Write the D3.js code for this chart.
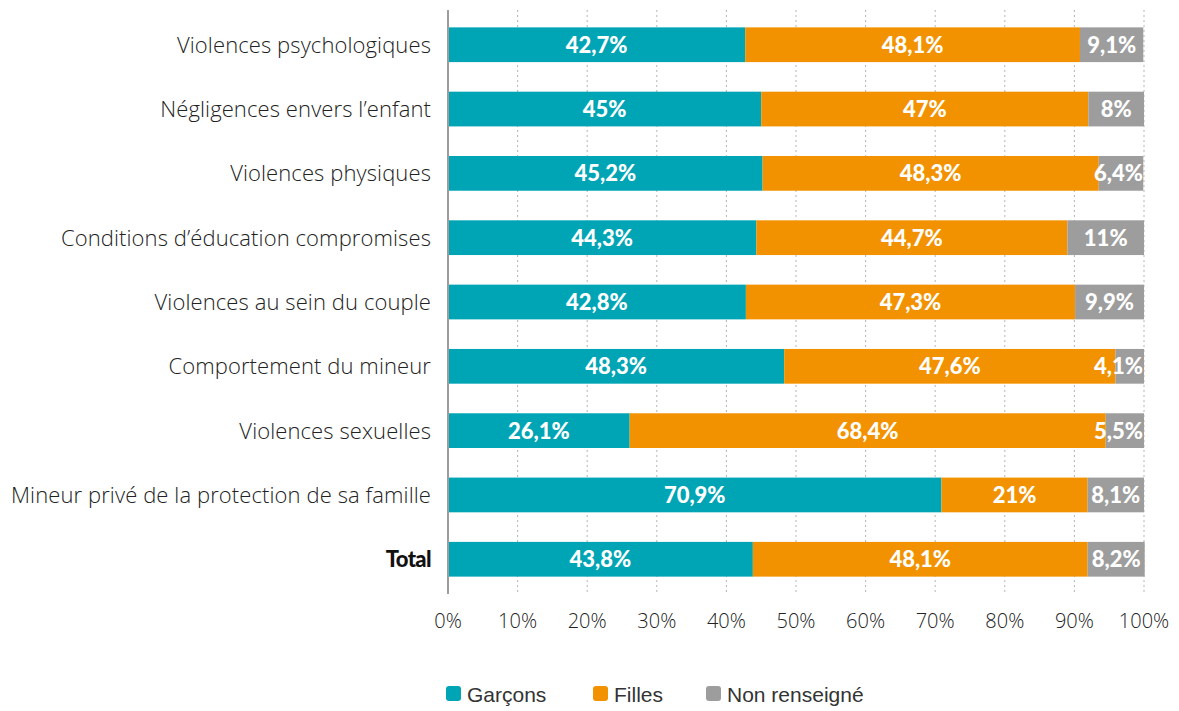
<!DOCTYPE html>
<html>
<head>
<meta charset="utf-8">
<script src="https://cdn.jsdelivr.net/npm/d3@7"></script>
<style>
  body { margin: 0; background: #fff; }
  svg { display: block; }
</style>
</head>
<body>
<svg id="chart" width="1179" height="711"></svg>
<script>
'use strict';

const categories = [
    'Violences psychologiques',
    'Négligences envers l\u2019enfant',
    'Violences physiques',
    'Conditions d\u2019éducation compromises',
    'Violences au sein du couple',
    'Comportement du mineur',
    'Violences sexuelles',
    'Mineur privé de la protection de sa famille',
    'Total'
];
const garcons = [42.7, 45, 45.2, 44.3, 42.8, 48.3, 26.1, 70.9, 43.8];
const filles = [48.1, 47, 48.3, 44.7, 47.3, 47.6, 68.4, 21, 48.1];
const nonRenseigne = [9.1, 8, 6.4, 11, 9.9, 4.1, 5.5, 8.1, 8.2];
const seriesNames = ['Garçons', 'Filles', 'Non renseigné'];
const colors = ['#00a5b5', '#f39200', '#9d9d9d'];
const tickValues = [0, 10, 20, 30, 40, 50, 60, 70, 80, 90, 100];

const svg = d3.select('#chart');
const plotLeft = 448, plotRight = 1144, plotTop = 10, plotBottom = 594;

const x = d3.scaleLinear().domain([0, 100]).range([plotLeft, plotRight]);
const y = d3.scaleBand().domain(categories).range([plotTop, plotBottom]).paddingInner(0.46).paddingOuter(0.27);

const fmt = v => String(v).replace('.', ',') + '%';

// dotted grid lines
svg.append('g')
    .selectAll('line')
    .data(tickValues.slice(1))
    .enter()
    .append('line')
    .attr('x1', d => x(d)).attr('x2', d => x(d))
    .attr('y1', plotTop).attr('y2', plotBottom)
    .attr('stroke', '#b5b5b5')
    .attr('stroke-width', 1)
    .attr('stroke-dasharray', '2,3');

const rows = categories.map((c, i) => ({ cat: c, vals: [garcons[i], filles[i], nonRenseigne[i]] }));

const rowG = svg.append('g')
    .selectAll('g')
    .data(rows)
    .enter()
    .append('g');

rowG.each(function(row) {
    const g = d3.select(this);
    let acc = 0;
    row.vals.forEach((v, k) => {
        const x0 = x(acc), x1 = x(acc + v);
        acc += v;
        g.append('rect')
            .attr('x', x0)
            .attr('y', y(row.cat))
            .attr('width', x1 - x0)
            .attr('height', y.bandwidth())
            .attr('fill', colors[k]);
        const t = g.append('text')
            .attr('y', y(row.cat) + y.bandwidth() / 2)
            .attr('dy', '0.36em')
            .attr('text-anchor', 'middle')
            .attr('fill', '#fff')
            .attr('font-family', 'Lato, sans-serif')
            .attr('font-weight', 900)
            .attr('font-size', 22)
            .text(fmt(v));
        const w = t.node().getComputedTextLength();
        let cx = (x0 + x1) / 2;
        if (cx + w / 2 > plotRight - 1) cx = plotRight - 1 - w / 2;
        t.attr('x', cx);
    });
});

// axis line
svg.append('line')
    .attr('x1', plotLeft).attr('x2', plotLeft)
    .attr('y1', plotTop).attr('y2', plotBottom)
    .attr('stroke', '#9d9d9d')
    .attr('stroke-width', 2);

// category labels
svg.append('g')
    .selectAll('text')
    .data(categories)
    .enter()
    .append('text')
    .attr('x', plotLeft - 17)
    .attr('y', d => y(d) + y.bandwidth() / 2)
    .attr('dy', '0.36em')
    .attr('text-anchor', 'end')
    .attr('fill', d => d === 'Total' ? '#111' : '#222')
    .attr('font-family', d => d === 'Total' ? 'Lato, sans-serif' : '"Open Sans", sans-serif')
    .attr('font-weight', d => d === 'Total' ? 900 : 300)
    .attr('font-size', 22)
    .attr('letter-spacing', d => d === 'Total' ? '-0.6' : '0.1')
    .text(d => d);

// x tick labels
svg.append('g')
    .selectAll('text')
    .data(tickValues)
    .enter()
    .append('text')
    .attr('x', d => x(d))
    .attr('y', 628)
    .attr('text-anchor', 'middle')
    .attr('fill', '#222')
    .attr('font-family', '"Open Sans", sans-serif')
    .attr('font-weight', 300)
    .attr('font-size', 20)
    .text(d => d + '%');

// legend
const legendX = [446, 593, 706];
const legend = svg.append('g')
    .selectAll('g')
    .data(seriesNames)
    .enter()
    .append('g')
    .attr('transform', (d, i) => `translate(${legendX[i]},686)`);
legend.append('rect')
    .attr('width', 15).attr('height', 15)
    .attr('rx', 3)
    .attr('fill', (d, i) => colors[i]);
legend.append('text')
    .attr('x', 21)
    .attr('y', 8)
    .attr('dy', '0.36em')
    .attr('fill', '#333')
    .attr('font-family', '"Liberation Sans", Arial, sans-serif')
    .attr('font-size', 21)
    .text(d => d);
</script>
</body>
</html>
